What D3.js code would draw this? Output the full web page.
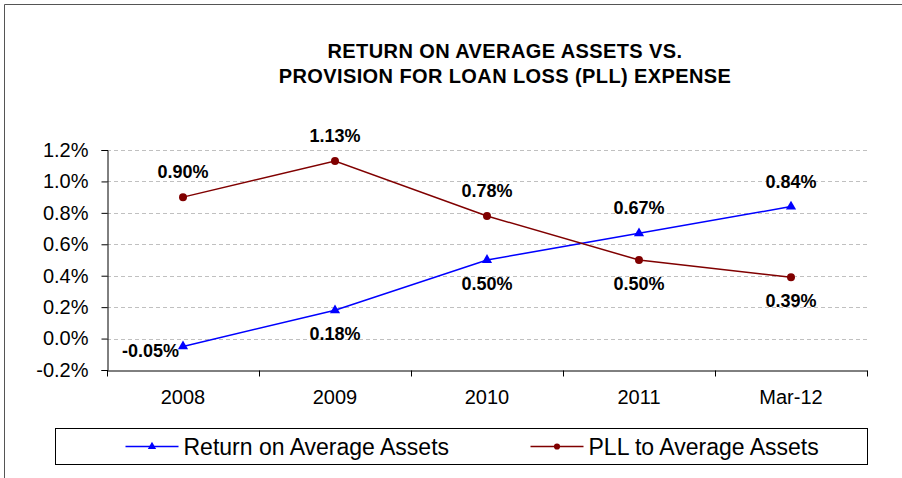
<!DOCTYPE html>
<html>
<head>
<meta charset="utf-8">
<script src="https://cdn.jsdelivr.net/npm/d3@7"></script>
<style>
  body { margin: 0; background: #fff; }
  svg { font-family: Arial, "Liberation Sans", sans-serif; }
</style>
</head>
<body>
<div id="chart"></div>
<script>
const categories = ['2008', '2009', '2010', '2011', 'Mar-12'];
const roaa = [-0.05, 0.18, 0.50, 0.67, 0.84];
const pll = [0.90, 1.13, 0.78, 0.50, 0.39];
const yTicks = [-0.2, 0, 0.2, 0.4, 0.6, 0.8, 1.0, 1.2];
const titleLines = ['RETURN ON AVERAGE ASSETS VS.', 'PROVISION FOR LOAN LOSS (PLL) EXPENSE'];
const seriesNames = ['Return on Average Assets', 'PLL to Average Assets'];

const W = 902, H = 478;
const margin = { top: 150, right: 35, bottom: 108, left: 107 };
const width = W - margin.left - margin.right;
const height = H - margin.top - margin.bottom;

const svg = d3.select('#chart').append('svg')
  .attr('width', W)
  .attr('height', H);

// outer frame
svg.append('path')
  .attr('d', 'M4.5,478 V4.5 H902')
  .attr('fill', 'none')
  .attr('stroke', '#555')
  .attr('stroke-width', 1);

svg.append('g')
  .selectAll('text')
  .data(titleLines)
  .join('text')
  .attr('x', 505)
  .attr('y', (d, i) => 58 + i * 25)
  .attr('text-anchor', 'middle')
  .attr('font-size', 20)
  .attr('font-weight', 'bold')
  .attr('letter-spacing', 0.4)
  .text(d => d);

const g = svg.append('g')
  .attr('transform', 'translate(' + margin.left + ',' + margin.top + ')');

const x = d3.scaleBand().domain(categories).range([0, width]);
const y = d3.scaleLinear().domain([-0.2, 1.2]).range([height, 0]);
const cx = d => x(d) + x.bandwidth() / 2;

// gridlines
g.append('g')
  .selectAll('line')
  .data(yTicks.filter(t => t > -0.2))
  .join('line')
  .attr('x1', 0)
  .attr('x2', width)
  .attr('y1', d => Math.round(y(d)) + 0.5)
  .attr('y2', d => Math.round(y(d)) + 0.5)
  .attr('stroke', '#c0c0c0')
  .attr('stroke-dasharray', '4,3');

// y axis
const yAxis = g.append('g')
  .attr('transform', 'translate(0.5,0)')
  .call(d3.axisLeft(y).tickValues(yTicks).tickSize(6).tickFormat(d => d.toFixed(1) + '%'));
yAxis.select('.domain').attr('stroke', '#000');
yAxis.selectAll('.tick line').attr('stroke', '#000');
yAxis.selectAll('text').attr('font-size', 20).attr('x', -19).attr('fill', '#000');

// x axis
const xAxis = g.append('g')
  .attr('transform', 'translate(0,' + (Math.round(y(-0.2)) + 0.5) + ')')
  .call(d3.axisBottom(x).tickSize(0).tickSizeOuter(0));
xAxis.select('.domain').attr('stroke', '#000');
xAxis.selectAll('text').attr('font-size', 20).attr('y', 33).attr('dy', 0).attr('fill', '#000');
xAxis.append('g')
  .selectAll('line')
  .data(d3.range(categories.length + 1))
  .join('line')
  .attr('x1', i => Math.round(i * x.step()) + 0.5)
  .attr('x2', i => Math.round(i * x.step()) + 0.5)
  .attr('y1', 0)
  .attr('y2', 6)
  .attr('stroke', '#000');

const line = d3.line()
  .x((d, i) => cx(categories[i]))
  .y(d => y(d));

const series = [
  { name: seriesNames[0], values: roaa, color: '#0000ff', marker: d3.symbolTriangle },
  { name: seriesNames[1], values: pll, color: '#800000', marker: d3.symbolCircle }
];

series.forEach(s => {
  g.append('path')
    .datum(s.values)
    .attr('fill', 'none')
    .attr('stroke', s.color)
    .attr('stroke-width', 1.5)
    .attr('d', line);
  g.append('g')
    .selectAll('path')
    .data(s.values)
    .join('path')
    .attr('transform', (d, i) => 'translate(' + cx(categories[i]) + ',' + y(d) + ')')
    .attr('d', d3.symbol().type(s.marker).size(s.marker === d3.symbolCircle ? 50 : 45))
    .attr('fill', s.color);
});

// data labels: higher series above, lower below; fall back to left near axis
categories.forEach((c, i) => {
  const vals = series.map(s => s.values[i]);
  series.forEach((s, k) => {
    const v = s.values[i];
    const isTop = v === Math.max(...vals);
    let lx = cx(c), ly, anchor = 'middle';
    if (isTop) {
      ly = y(v) - 19;
    } else {
      ly = y(v) + 30;
      if (ly > height) {
        lx = cx(c) - 4;
        ly = y(v) + 11;
        anchor = 'end';
      }
    }
    g.append('text')
      .attr('x', lx)
      .attr('y', ly)
      .attr('text-anchor', anchor)
      .attr('font-size', 18)
      .attr('font-weight', 'bold')
      .text(v.toFixed(2) + '%');
  });
});

// legend
const legend = svg.append('g').attr('transform', 'translate(55.5,428.5)');
legend.append('rect')
  .attr('width', 812)
  .attr('height', 36)
  .attr('fill', '#fff')
  .attr('stroke', '#000');
const legendX = [70, 475];
series.forEach((s, k) => {
  const lg = legend.append('g').attr('transform', 'translate(' + legendX[k] + ',18)');
  lg.append('line').attr('x1', 0).attr('x2', 53).attr('stroke', s.color).attr('stroke-width', 1.5);
  lg.append('path')
    .attr('transform', 'translate(26.5,0)')
    .attr('d', d3.symbol().type(s.marker).size(30))
    .attr('fill', s.color);
  lg.append('text')
    .attr('x', 58)
    .attr('dy', '0.36em')
    .attr('font-size', 23)
    .text(s.name);
});
</script>
</body>
</html>
